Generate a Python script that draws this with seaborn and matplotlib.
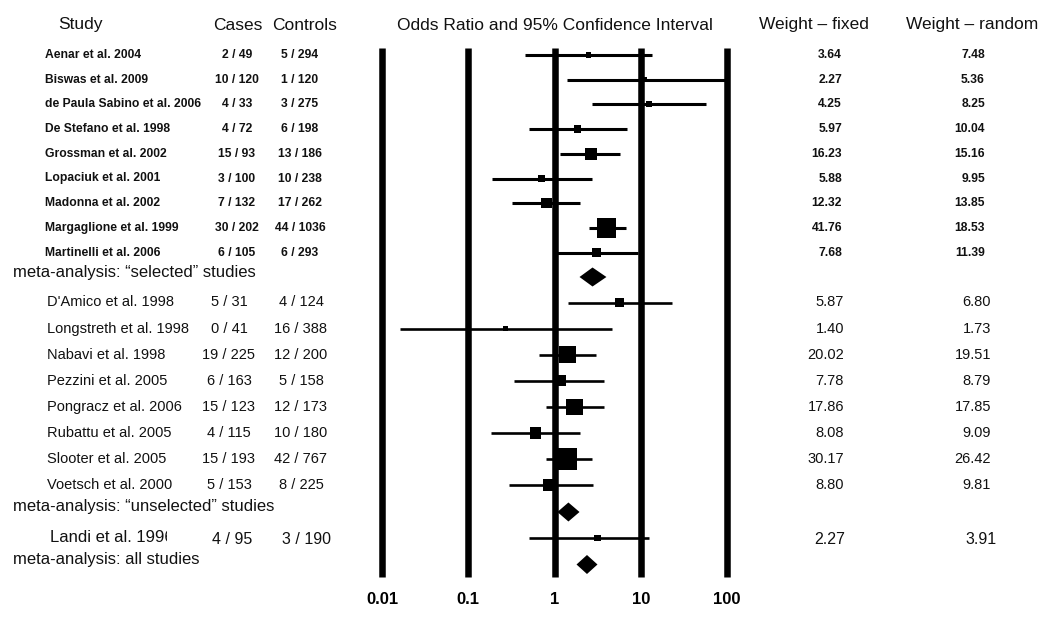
import seaborn as sns
import pandas as pd
import matplotlib.pyplot as plt
from matplotlib.transforms import Bbox, TransformedBbox
import numpy as np

# ---- data ----
studies_sel = ["Aenar et al. 2004", "Biswas et al. 2009", "de Paula Sabino et al. 2006",
               "De Stefano et al. 1998", "Grossman et al. 2002", "Lopaciuk et al. 2001",
               "Madonna et al. 2002", "Margaglione et al. 1999", "Martinelli et al. 2006"]
cases_sel = ["2 / 49", "10 / 120", "4 / 33", "4 / 72", "15 / 93", "3 / 100", "7 / 132", "30 / 202", "6 / 105"]
controls_sel = ["5 / 294", "1 / 120", "3 / 275", "6 / 198", "13 / 186", "10 / 238", "17 / 262", "44 / 1036", "6 / 293"]
or_sel = [2.48, 11.1, 12.4, 1.85, 2.62, 0.71, 0.81, 4.0, 3.08]
lo_sel = [0.46, 1.38, 2.69, 0.51, 1.17, 0.19, 0.32, 2.48, 1.05]
hi_sel = [13.4, 100, 57, 6.9, 5.7, 2.7, 2.0, 6.7, 9.3]
wfix_sel = ["3.64", "2.27", "4.25", "5.97", "16.23", "5.88", "12.32", "41.76", "7.68"]
wran_sel = ["7.48", "5.36", "8.25", "10.04", "15.16", "9.95", "13.85", "18.53", "11.39"]

studies_uns = ["D'Amico et al. 1998", "Longstreth et al. 1998", "Nabavi et al. 1998", "Pezzini et al. 2005",
               "Pongracz et al. 2006", "Rubattu et al. 2005", "Slooter et al. 2005", "Voetsch et al. 2000"]
cases_uns = ["5 / 31", "0 / 41", "19 / 225", "6 / 163", "15 / 123", "4 / 115", "15 / 193", "5 / 153"]
controls_uns = ["4 / 124", "16 / 388", "12 / 200", "5 / 158", "12 / 173", "10 / 180", "42 / 767", "8 / 225"]
or_uns = [5.7, 0.27, 1.42, 1.17, 1.71, 0.60, 1.38, 0.87]
lo_uns = [1.42, 0.016, 0.67, 0.34, 0.79, 0.185, 0.79, 0.30]
hi_uns = [22.9, 4.6, 3.0, 3.7, 3.7, 2.0, 2.7, 2.77]
wfix_uns = ["5.87", "1.40", "20.02", "7.78", "17.86", "8.08", "30.17", "8.80"]
wran_uns = ["6.80", "1.73", "19.51", "8.79", "17.85", "9.09", "26.42", "9.81"]

study_landi = "Landi et al. 1996"
cases_landi = "4 / 95"
controls_landi = "3 / 190"
or_landi = 3.16
lo_landi = 0.51
hi_landi = 12.4
wfix_landi = "2.27"
wran_landi = "3.91"

meta_labels = ["meta-analysis: \u201cselected\u201d studies",
               "meta-analysis: \u201cunselected\u201d studies",
               "meta-analysis: all studies"]
meta_or = [2.76, 1.45, 2.38]
meta_lo = [1.95, 1.08, 1.80]
meta_hi = [4.0, 1.95, 3.15]

ticks = [0.01, 0.1, 1, 10, 100]
tick_labels = ["0.01", "0.1", "1", "10", "100"]

# ---- layout (pixels, y downwards) ----
W, H = 1050, 619
y_sel = [55 + 24.7 * i for i in range(len(studies_sel))]
y_meta_sel = 277
y_uns = [302.5 + 26.1 * i for i in range(len(studies_uns))]
y_meta_uns = 512
y_landi = 538
y_meta_all = 564.5
meta_y = [y_meta_sel, y_meta_uns, y_meta_all]

sns.set_theme(style="white")
plt.rcParams['font.family'] = ['Liberation Sans', 'DejaVu Sans']

fig = plt.figure(figsize=(W / 100, H / 100), dpi=100)
bg = fig.add_axes([0, 0, 1, 1])
bg.set_xlim(0, W)
bg.set_ylim(H, 0)
bg.axis('off')

ax = fig.add_axes([0, 0, 1, 1])
ax.set_xscale('log')
px_dec = 345 / 4.0
x0 = -2 - 382 / px_dec
ax.set_ylim(H, 0)

# headers
hdr = dict(fontsize=12.5, va='center', color='#111111')
bg.text(58, 25, "Study", ha='left', **hdr)
bg.text(213, 25, "Cases", ha='left', **hdr)
bg.text(272, 25, "Controls", ha='left', **hdr)
bg.text(555, 25, "Odds Ratio and 95% Confidence Interval", ha='center', **hdr)
bg.text(814, 25, "Weight \u2013 fixed", ha='center', **hdr)
bg.text(972, 25, "Weight \u2013 random", ha='center', **hdr)

small = dict(fontsize=8.7, fontweight='bold', va='center', color='#111111')
for i, y in enumerate(y_sel):
    bg.text(45, y, studies_sel[i], ha='left', **small)
    bg.text(237, y, cases_sel[i], ha='center', **small)
    bg.text(300, y, controls_sel[i], ha='center', **small)
    bg.text(842, y, wfix_sel[i], ha='right', **small)
    bg.text(985, y, wran_sel[i], ha='right', **small)

mid = dict(fontsize=10.5, va='center', color='#111111')
for i, y in enumerate(y_uns):
    bg.text(47, y, studies_uns[i], ha='left', **mid)
    bg.text(229, y, cases_uns[i], ha='center', **mid)
    bg.text(301, y, controls_uns[i], ha='center', **mid)
    bg.text(844, y, wfix_uns[i], ha='right', **mid)
    bg.text(991, y, wran_uns[i], ha='right', **mid)

big = dict(fontsize=11.5, va='center', color='#111111')
# the last digit of this label is cut off in the original
t = bg.text(50, y_landi - 1, study_landi, ha='left', clip_on=True, fontsize=12, va='center', color='#111111')
t.set_clip_box(TransformedBbox(Bbox([[0, 0], [167, H]]), bg.transData))
bg.text(232, y_landi + 2, cases_landi, ha='center', **big)
bg.text(307, y_landi + 2, controls_landi, ha='center', **big)
bg.text(845, y_landi + 2, wfix_landi, ha='right', **big)
bg.text(997, y_landi + 2, wran_landi, ha='right', **big)

for lab, y in zip(meta_labels, meta_y):
    bg.text(13, y - 5, lab, ha='left', fontsize=12, va='center', color='#111111')

# vertical reference lines
ax.vlines(ticks, 48, 577, color='black', lw=4.7)
for tv, tl in zip(ticks, tick_labels):
    ax.text(tv, 599, tl, ha='center', va='center', fontsize=12, fontweight='bold', color='black')

# confidence intervals
ax.hlines(y_sel, lo_sel, hi_sel, color='black', lw=2.2)
ax.hlines(y_uns, lo_uns, hi_uns, color='black', lw=1.9)
ax.hlines([y_landi], [lo_landi], [hi_landi], color='black', lw=1.9)

# squares sized by fixed weight
def sq(weights, k):
    return [(k * np.sqrt(float(w)) * 0.72) ** 2 for w in weights]

pts = pd.DataFrame({
    "or": or_sel + or_uns + [or_landi],
    "y": y_sel + y_uns + [y_landi],
})
sizes = sq(wfix_sel, 3.0) + sq(wfix_uns, 3.9) + sq([wfix_landi], 4.3)
sns.scatterplot(data=pts, x="or", y="y", s=sizes, marker='s', color='black',
                linewidth=0, ax=ax, legend=False)

# pooled diamonds
for m, lo, hi, y in zip(meta_or, meta_lo, meta_hi, meta_y):
    ax.fill([lo, m, hi, m], [y, y - 9.5, y, y + 9.5], color='black', lw=0)

ax.set_xlim(10 ** x0, 10 ** (x0 + W / px_dec))
ax.set_ylim(H, 0)
ax.axis('off')

fig.savefig("out.png", dpi=100, facecolor='white')
